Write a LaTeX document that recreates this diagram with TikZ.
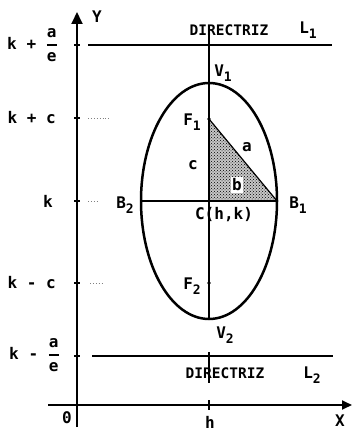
\documentclass[tikz,border=0pt]{standalone}
\usepackage{amsmath}
\usepackage{fontspec}
\setmainfont{DejaVu Sans Mono}
\usetikzlibrary{arrows.meta,patterns}
\newcommand{\lowidx}[1]{\raisebox{-0.5ex}{\fontsize{13}{13}\selectfont #1}}
\newcommand{\aovere}{$\genfrac{}{}{1.4pt}{0}{\text{a}}{\text{e}}$}

\begin{document}
\begin{tikzpicture}[x=1pt, y=-1pt,
  lbl/.style={font=\bfseries\fontsize{16}{18}\selectfont, inner sep=1pt},
  dirlbl/.style={font=\bfseries\fontsize{14.5}{16}\selectfont, inner sep=1pt},
  axisline/.style={line width=1.8pt},
  thinline/.style={line width=1.2pt},
  guide/.style={dotted, line width=0.9pt, gray}]
\useasboundingbox (0,0) rectangle (352,433);
% axes
\coordinate (Ybot) at (77,427);
\coordinate (Ytop) at (77,12);
\coordinate (Xleft) at (48,405);
\coordinate (Xright) at (352,405);
\draw[axisline, -{Triangle[length=12pt,width=11pt]}] (Ybot) -- (Ytop);
\draw[axisline, -{Triangle[length=10pt,width=9pt]}] (Xleft) -- (Xright);
\node[lbl] (ylab) at (97,17) {Y};
\node[lbl] (xlab) at (340,421) {X};
\node[lbl] (orig) at (67,418) {0};
\node[lbl] (hlab) at (210,422) {h};
% ticks on the Y axis
\foreach \yy in {45,118,201,283,356}
  \draw[thinline] (74,\yy) -- (80,\yy);
\node[lbl, anchor=east] (kae) at (59,45) {k + \aovere};
\node[lbl, anchor=east] (kc) at (57,118) {k + c};
\node[lbl, anchor=east] (k) at (54,201) {k};
\node[lbl, anchor=east] (kmc) at (57,283) {k - c};
\node[lbl, anchor=east] (kmae) at (61,355) {k - \aovere};
% dotted guides
\draw[guide] (88,118) -- (110,118);
\draw[guide] (88,201) -- (98,201);
\draw[guide] (90,283) -- (103,283);
% directrices
\coordinate (L1a) at (88,45);
\coordinate (L1b) at (332,45);
\coordinate (L2a) at (92,356);
\coordinate (L2b) at (333,356);
\draw[axisline] (L1a) -- (L1b);
\draw[axisline] (L2a) -- (L2b);
\node[dirlbl] (dir1) at (229,30) {DIRECTRIZ};
\node[lbl] (l1) at (308,30) {L\lowidx{1}};
\node[dirlbl] (dir2) at (225,373) {DIRECTRIZ};
\node[lbl] (l2) at (312,375) {L\lowidx{2}};
% ellipse
\coordinate (C) at (209,201);
\coordinate (V1) at (209,83);
\coordinate (V2) at (209,319);
\coordinate (F1) at (209,119);
\coordinate (F2) at (209,283);
\coordinate (B1) at (277,201);
\coordinate (B2) at (141,201);
\coordinate (Vtop) at (209,29);
\fill[black!22] (F1) -- (C) -- (B1) -- cycle;
\fill[pattern=crosshatch dots] (F1) -- (C) -- (B1) -- cycle;
\draw[thinline] (F1) -- (B1);
\draw[thinline] (Vtop) -- (V2);
\draw[thinline] (B2) -- (B1);
\draw[thinline] (209,352) -- (209,383);
\draw[thinline] (209,400) -- (209,410);
\draw[line width=2.5pt] (C) ellipse [x radius=68, y radius=118];
\fill (F1) circle (1.9pt);
\fill (F2) circle (1.9pt);
\node[lbl] (v1lab) at (223,73) {V\lowidx{1}};
\node[lbl] (v2lab) at (225,335) {V\lowidx{2}};
\node[lbl] (f1lab) at (192,122) {F\lowidx{1}};
\node[lbl] (f2lab) at (192,286) {F\lowidx{2}};
\node[lbl] (b1lab) at (298,205) {B\lowidx{1}};
\node[lbl] (b2lab) at (125,205) {B\lowidx{2}};
\node[lbl] (clab) at (224,215) {C(h,k)};
\node[lbl] (alab) at (247,147) {a};
\node[lbl, fill=white, inner sep=1.5pt] (blab) at (237,185) {b};
\node[lbl] (cside) at (193,165) {c};
\end{tikzpicture}
\end{document}
